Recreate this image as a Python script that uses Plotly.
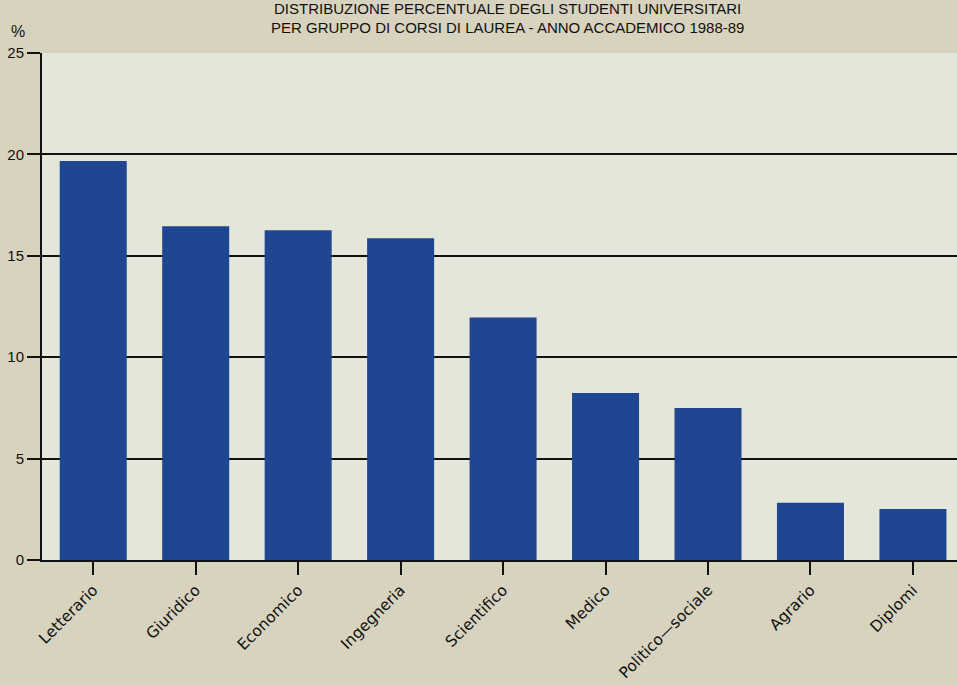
import plotly.graph_objects as go

categories = ["Letterario", "Giuridico", "Economico", "Ingegneria", "Scientifico",
              "Medico", "Politico\u2014sociale", "Agrario", "Diplomi"]
values = [19.67, 16.46, 16.26, 15.87, 11.96, 8.23, 7.5, 2.82, 2.51]
y_ticks = [0, 5, 10, 15, 20, 25]
title_lines = ["DISTRIBUZIONE PERCENTUALE DEGLI STUDENTI UNIVERSITARI",
               "PER GRUPPO DI CORSI DI LAUREA - ANNO ACCADEMICO 1988-89"]

BAR = "#1f4690"
PAPER = "#d7d3be"
fig = go.Figure()
fig.add_trace(go.Bar(x=categories, y=values, marker=dict(color=BAR, line=dict(width=0)),
                     hoverinfo="x+y"))

fig.update_layout(
    width=957, height=685,
    margin=dict(l=42, r=0, t=53, b=125),
    paper_bgcolor=PAPER,
    plot_bgcolor="#e3e6d8",
    bargap=0.346,
    showlegend=False,
    font=dict(family="Liberation Sans, Arial, sans-serif", color="#111111", size=15),
    xaxis=dict(
        range=[-0.5, 8.43], showgrid=False, zeroline=False, automargin=False,
        showline=True, linecolor="#111111", linewidth=2,
        ticks="outside", ticklen=13, tickwidth=2, tickcolor="#111111",
        tickangle=-45, tickfont=dict(family="DejaVu Sans, sans-serif", size=15.5),
    ),
    yaxis=dict(
        range=[0, 25], tickvals=y_ticks, showgrid=True, gridcolor="#111111", gridwidth=2,
        zeroline=False, showline=True, linecolor="#111111", linewidth=2, automargin=False,
        ticks="outside", ticklen=13, tickwidth=2, tickcolor="#111111",
        tickfont=dict(family="Liberation Sans, Arial, sans-serif", size=15),
    ),
)

title_x = (507 - 42) / 915
fig.add_annotation(text=title_lines[0], xref="paper", yref="paper", x=title_x, y=1,
                   yshift=53 - 8, showarrow=False, yanchor="middle", xanchor="center",
                   font=dict(family="Liberation Sans Narrow, Arial Narrow, sans-serif", size=15))
fig.add_annotation(text=title_lines[1], xref="paper", yref="paper", x=title_x, y=1,
                   yshift=53 - 27, showarrow=False, yanchor="middle", xanchor="center",
                   font=dict(family="Liberation Sans Narrow, Arial Narrow, sans-serif", size=15))
fig.add_annotation(text="%", xref="paper", yref="paper", x=-24 / 915, y=1,
                   yshift=53 - 31, showarrow=False, yanchor="middle", xanchor="center",
                   font=dict(family="Liberation Sans, Arial, sans-serif", size=16))

fig.write_html("out.html", config={"displayModeBar": False},
               post_script="document.body.style.margin='0';document.body.style.background='%s';" % PAPER)
